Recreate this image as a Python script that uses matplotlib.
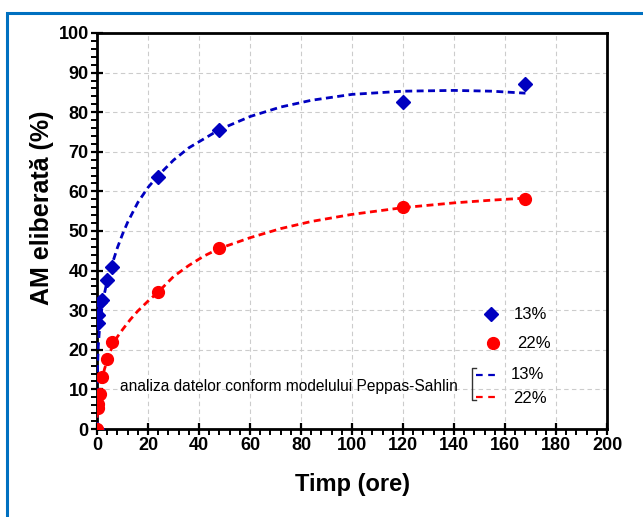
import matplotlib.pyplot as plt
from matplotlib.patches import Rectangle
from matplotlib.ticker import MultipleLocator

plt.rcParams['font.family'] = ['Liberation Sans', 'DejaVu Sans']
plt.rcParams['font.weight'] = 'bold'

# masuratori (timp in ore, AM eliberata in %)
timp = [0, 0.25, 0.5, 1, 2, 4, 6, 24, 48, 120, 168]
am_13 = [0, 26.7, 28.8, 32.0, 32.5, 37.7, 40.8, 63.7, 75.4, 82.6, 87.1]
am_22 = [0, 5.3, 6.2, 8.9, 13.1, 17.6, 21.9, 34.5, 45.6, 56.0, 58.2]

# curbele Peppas-Sahlin
timp_fit_13 = [0, 0.1, 0.25, 0.5, 1, 2, 3, 4, 6, 8, 10, 12, 16, 20, 24, 30, 36,
               48, 60, 72, 84, 100, 120, 140, 155, 168]
fit_13 = [0, 12.0, 17.0, 21.0, 25.5, 31.0, 34.5, 37.5, 41.8, 45.8, 49.2, 52.2,
          57.2, 61.0, 64.0, 67.9, 71.0, 75.6, 78.9, 81.3, 83.0, 84.5, 85.3,
          85.5, 85.3, 84.8]
timp_fit_22 = [0, 0.1, 0.25, 0.5, 1, 1.5, 2, 3, 4, 5, 6, 8, 10, 13, 16, 20, 24,
               30, 36, 42, 48, 60, 72, 84, 100, 120, 140, 155, 168]
fit_22 = [0, 3.5, 5.0, 6.6, 9.3, 11.3, 12.8, 15.3, 17.2, 19.2, 20.8, 23.3, 25.1,
          27.6, 29.8, 32.3, 34.6, 38.5, 41.3, 43.7, 45.6, 48.3, 50.6, 52.4, 54.2,
          55.9, 57.1, 57.8, 58.3]

albastru = '#0000C0'
rosu = '#FF0000'

fig = plt.figure(figsize=(6.43, 5.17), dpi=100)
ax = fig.add_axes([0.1509, 0.1702, 0.7932, 0.7660])

# chenar albastru
fig.patches.append(Rectangle((0.0109, -0.1), 1.2, 1.0758, transform=fig.transFigure,
                             fill=False, edgecolor='#0070C0', lw=2.2, clip_on=False))

ax.plot(timp_fit_13, fit_13, color=albastru, lw=2.0, dashes=(2.5, 1.6), zorder=3)
ax.plot(timp_fit_22, fit_22, color=rosu, lw=2.0, dashes=(2.5, 1.6), zorder=3)
ax.plot(timp, am_13, 'D', color=albastru, ms=7.5, zorder=4)
ax.plot(timp, am_22, 'o', color=rosu, ms=8.5, zorder=4)

ax.set_xlim(0, 200)
ax.set_ylim(0, 100)
ax.xaxis.set_major_locator(MultipleLocator(20))
ax.xaxis.set_minor_locator(MultipleLocator(4))
ax.yaxis.set_major_locator(MultipleLocator(10))
ax.yaxis.set_minor_locator(MultipleLocator(2))
ax.grid(True, which='major', color='#CCCCCC', ls=(0, (4, 3)), lw=0.8)
ax.set_axisbelow(True)

for s in ax.spines.values():
    s.set_linewidth(2.0)
ax.tick_params(which='major', direction='inout', length=8, width=1.6,
               labelsize=13, pad=2)
ax.tick_params(which='minor', direction='out', length=4, width=1.4)

ax.set_xlabel('Timp (ore)', fontsize=17, fontweight='bold')
ax.set_ylabel('AM eliberată (%)', fontsize=18, fontweight='bold')
ax.xaxis.set_label_coords(0.5, -0.11)
ax.yaxis.set_label_coords(-0.085, 0.558)

# legenda
tr = ax.transAxes
ax.plot([0.773], [0.290], 'D', color=albastru, ms=7.5, transform=tr, clip_on=False)
ax.text(0.818, 0.290, '13%', transform=tr, fontsize=12, fontweight='normal',
        va='center')
ax.plot([0.776], [0.217], 'o', color=rosu, ms=8.5, transform=tr, clip_on=False)
ax.text(0.824, 0.217, '22%', transform=tr, fontsize=12, fontweight='normal',
        va='center')

ax.text(0.045, 0.108, 'analiza datelor conform modelului Peppas-Sahlin',
        transform=tr, fontsize=11.2, fontweight='normal', va='center')
ax.plot([0.744, 0.735, 0.735, 0.744], [0.154, 0.154, 0.073, 0.073],
        color='#333333', lw=1.0, transform=tr)
ax.plot([0.744, 0.790], [0.136, 0.136], color=albastru, lw=1.6,
        dashes=(3, 2.5), transform=tr)
ax.plot([0.744, 0.790], [0.081, 0.081], color=rosu, lw=1.6,
        dashes=(3, 2.5), transform=tr)
ax.text(0.812, 0.138, '13%', transform=tr, fontsize=12, fontweight='normal',
        va='center')
ax.text(0.816, 0.078, '22%', transform=tr, fontsize=12, fontweight='normal',
        va='center')

fig.savefig('out.png', dpi=100)
